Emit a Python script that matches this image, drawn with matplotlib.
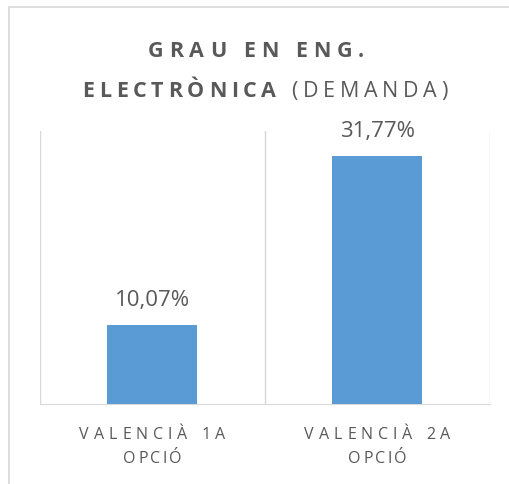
import matplotlib
matplotlib.use("Agg")
import matplotlib.pyplot as plt
import matplotlib.patches as patches

# data
categories = [["VALENCIÀ 1A", "OPCIÓ"], ["VALENCIÀ 2A", "OPCIÓ"]]
values = [10.07, 31.77]
value_labels = ["10,07%", "31,77%"]
title_line1 = [("GRAU EN ENG.", "bold")]
title_line2 = [("ELECTRÒNICA", "bold"), (" (DEMANDA)", "normal")]

W, H = 510, 484
FONT = ["Open Sans", "DejaVu Sans"]
GREY = "#595959"
LINE = "#D9D9D9"
BLUE = "#5B9BD5"

fig = plt.figure(figsize=(W / 100, H / 100), dpi=100)
renderer = fig.canvas.get_renderer()


def char_width(ch, size, weight):
    if ch == " ":
        return size * 100 / 72 * 0.26
    t = fig.text(0, 0, ch, fontsize=size, fontweight=weight, family=FONT)
    w = t.get_window_extent(renderer).width
    t.remove()
    return w


def spaced_text(xc, y, parts, size, span, color=GREY):
    # draw text centred at xc (pixels), baseline y (pixels from top),
    # letter-spaced so that it covers about `span` pixels
    chars = []
    for s, weight in parts:
        for ch in s:
            chars.append((ch, weight, char_width(ch, size, weight)))
    ink = sum(c[2] for c in chars)
    track = max(0, (span - ink) / (len(chars) - 1))
    x = xc - span / 2
    for ch, weight, w in chars:
        if ch != " ":
            fig.text(x / W, 1 - y / H, ch, fontsize=size, fontweight=weight,
                     family=FONT, color=color, ha="left", va="baseline")
        x += w + track


# outer chart border (cut off on right and bottom like the reference)
fig.patches.append(patches.Rectangle((9 / W, -0.1), 2, 1 - 7 / H + 0.1,
                                     transform=fig.transFigure, fill=False,
                                     edgecolor=LINE, lw=1.2))

ax = fig.add_axes([40 / W, (H - 404) / H, 450 / W, (404 - 131) / H])
x = list(range(len(values)))
bars = ax.bar(x, values, width=0.4, color=BLUE, zorder=3)
ax.set_xlim(-0.5, len(values) - 0.5)
ax.set_ylim(0, 35)
for sep in [-0.5 + i for i in range(len(values) + 1)]:
    ax.axvline(sep, color=LINE, lw=1, zorder=1)
for s in ["top", "left", "right"]:
    ax.spines[s].set_visible(False)
ax.spines["bottom"].set_color(LINE)
ax.set_xticks([])
ax.set_yticks([])

for xi, v, lab in zip(x, values, value_labels):
    ax.annotate(lab, (xi, v), xytext=(0, 19), textcoords="offset pixels",
                ha="center", va="baseline", fontsize=16, color=GREY, family=FONT)

# title
spaced_text(256, 57, title_line1, 15.5, 216)
spaced_text(265, 97, title_line2, 15.5, 366)

# category labels
for xi, lines in zip(x, categories):
    px = ax.transData.transform((xi, 0))[0]
    spaced_text(px, 439, [(lines[0], "normal")], 11.5, 146)
    spaced_text(px, 463, [(lines[1], "normal")], 11.5, 58)

fig.savefig("out.png", dpi=100)
